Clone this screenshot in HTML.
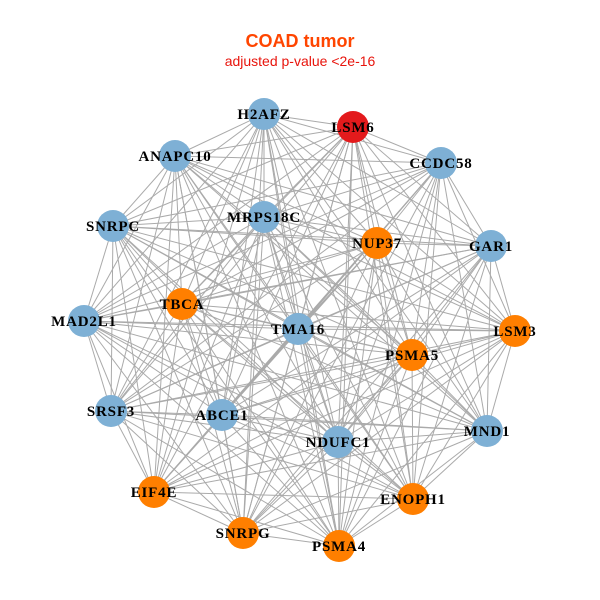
<!DOCTYPE html>
<html><head><meta charset="utf-8"><style>
html,body{margin:0;padding:0;background:#fff;}
svg{display:block;}
.l{font-family:"Liberation Serif",serif;font-weight:bold;font-size:15px;letter-spacing:0.8px;fill:#000;text-anchor:middle;}
</style></head><body>
<svg id="s" width="600" height="600" viewBox="0 0 600 600">
<rect width="600" height="600" fill="#fff"/>
<text x="300" y="47" text-anchor="middle" font-family="Liberation Sans, sans-serif" font-weight="bold" font-size="18" fill="#ff4500">COAD tumor</text>
<text x="300" y="66" text-anchor="middle" font-family="Liberation Sans, sans-serif" font-size="14" fill="#e8140c">adjusted p-value &lt;2e-16</text>
<g id="edges" stroke="#aaaaaa" stroke-width="1"></g>
<g id="nodes"></g>
<g>
<text class="l" x="264" y="119">H2AFZ</text>
<text class="l" x="353" y="132">LSM6</text>
<text class="l" x="175" y="161">ANAPC10</text>
<text class="l" x="441" y="168">CCDC58</text>
<text class="l" x="264" y="222">MRPS18C</text>
<text class="l" x="113" y="231">SNRPC</text>
<text class="l" x="377" y="248">NUP37</text>
<text class="l" x="491" y="251">GAR1</text>
<text class="l" x="182" y="309">TBCA</text>
<text class="l" x="84" y="326">MAD2L1</text>
<text class="l" x="298" y="334">TMA16</text>
<text class="l" x="515" y="336">LSM3</text>
<text class="l" x="412" y="360">PSMA5</text>
<text class="l" x="111" y="416">SRSF3</text>
<text class="l" x="222" y="420">ABCE1</text>
<text class="l" x="338" y="447">NDUFC1</text>
<text class="l" x="487" y="436">MND1</text>
<text class="l" x="154" y="497">EIF4E</text>
<text class="l" x="413" y="504">ENOPH1</text>
<text class="l" x="243" y="538">SNRPG</text>
<text class="l" x="339" y="551">PSMA4</text>
</g>
</svg>
<script>
var B="#7eb0d5",O="#ff7f00",R="#e31a1c";
var n=[[264,114,B],[353,127,R],[175,156,B],[441,163,B],[264,217,B],[113,226,B],[377,243,O],[491,246,B],[182,304,O],[84,321,B],[298,329,B],[515,331,O],[412,355,O],[111,411,B],[222,415,B],[338,442,B],[487,431,B],[154,492,O],[413,499,O],[243,533,O],[339,546,O]];
var ns="http://www.w3.org/2000/svg",e=document.getElementById("edges"),g=document.getElementById("nodes");
for(var i=0;i<n.length;i++)for(var j=i+1;j<n.length;j++){var l=document.createElementNS(ns,"line");l.setAttribute("x1",n[i][0]);l.setAttribute("y1",n[i][1]);l.setAttribute("x2",n[j][0]);l.setAttribute("y2",n[j][1]);e.appendChild(l);}
n.forEach(function(p){var c=document.createElementNS(ns,"circle");c.setAttribute("cx",p[0]);c.setAttribute("cy",p[1]);c.setAttribute("r",16);c.setAttribute("fill",p[2]);g.appendChild(c);});
</script>
</body></html>
